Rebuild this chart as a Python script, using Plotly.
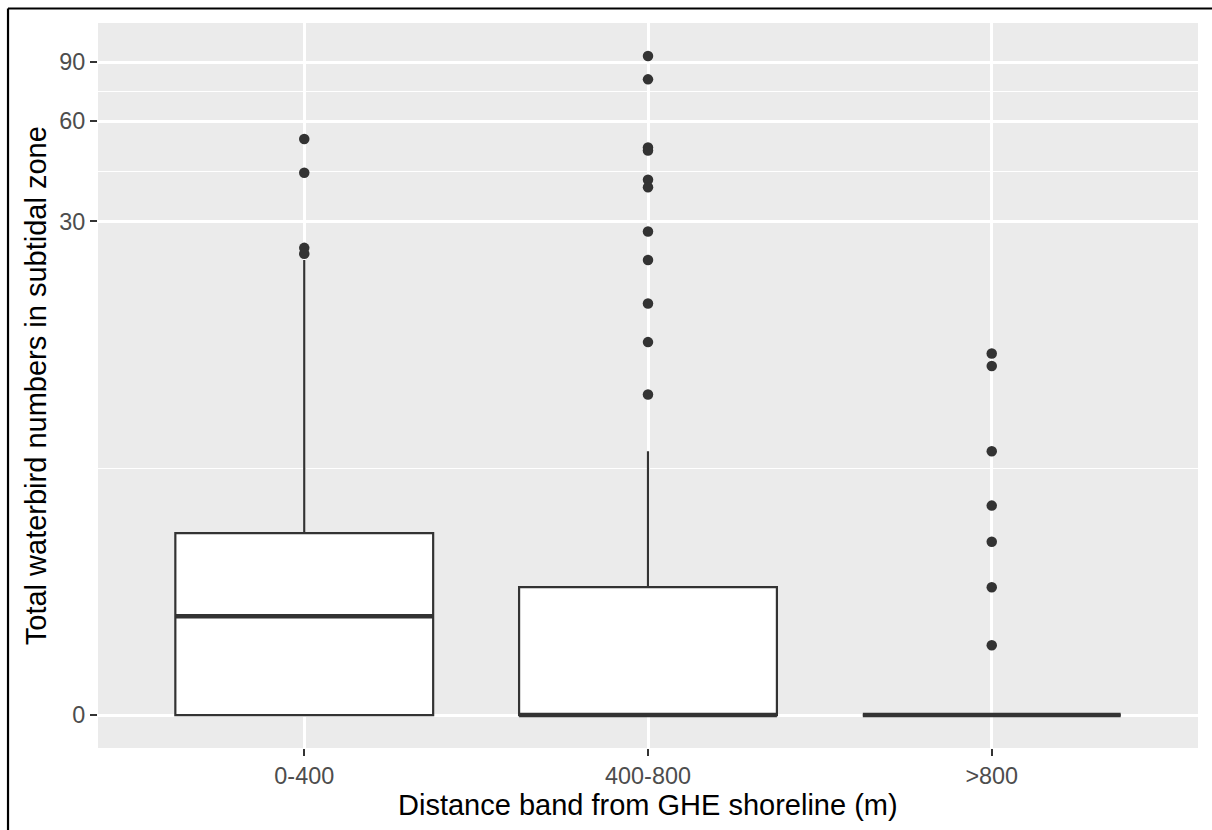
import numpy as np
import plotly.graph_objects as go

# Distance bands and box statistics (waterbird counts)
bands = ["0-400", "400-800", ">800"]
q1 = [0, 0, 0]
median = [1.47, 0, 0]
q3 = [3.22, 2, 0]
lower_whisker = [0, 0, 0]
upper_whisker = [23, 6, 0]

# Outlying counts per band
outliers_0_400 = [53, 42, 25, 24]
outliers_400_800 = [94, 80, 50, 49, 40, 38, 28, 23, 17, 13, 9]
outliers_800 = [12, 11, 6, 4, 3, 2, 1]
outliers = [outliers_0_400, outliers_400_800, outliers_800]

# Axis breaks
y_breaks = [0, 30, 60, 90]


def pseudo_log(v):
    """Pseudo-log transform (sigma = 1): asinh(x / 2)."""
    return np.arcsinh(np.asarray(v, dtype=float) / 2.0)


BOX_W = 0.75
LINE_C = "#333333"
GRID_BG = "#EBEBEB"
FONT = "Liberation Sans, Arial, sans-serif"
TICK_SIZE = 23.4
TITLE_SIZE = 29.0

fig = go.Figure()

for i, band in enumerate(bands):
    fig.add_trace(go.Box(
        x=[i],
        q1=[pseudo_log(q1[i])],
        median=[pseudo_log(median[i])],
        q3=[pseudo_log(q3[i])],
        lowerfence=[pseudo_log(lower_whisker[i])],
        upperfence=[pseudo_log(upper_whisker[i])],
        width=BOX_W,
        whiskerwidth=0,
        boxpoints=False,
        fillcolor="white",
        line=dict(color=LINE_C, width=2.2),
        showlegend=False,
        hoverinfo="skip",
    ))
    # heavier median bar
    m = float(pseudo_log(median[i]))
    fig.add_trace(go.Scatter(
        x=[i - BOX_W / 2, i + BOX_W / 2],
        y=[m, m],
        mode="lines",
        line=dict(color=LINE_C, width=4.6),
        showlegend=False,
        hoverinfo="skip",
    ))
    fig.add_trace(go.Scatter(
        x=[i] * len(outliers[i]),
        y=pseudo_log(outliers[i]),
        mode="markers",
        marker=dict(color=LINE_C, size=10.5, line=dict(width=0)),
        showlegend=False,
        hoverinfo="skip",
    ))

# y range with 5% expansion of the transformed data span
all_vals = np.concatenate([np.asarray(o, dtype=float) for o in outliers] + [np.asarray(q1, float)])
t_min = float(pseudo_log(all_vals.min()))
t_max = float(pseudo_log(all_vals.max()))
pad = 0.05 * (t_max - t_min)
y_range = [t_min - pad, t_max + pad]

major_t = list(pseudo_log(y_breaks))
step = major_t[1] - major_t[0]
ext = [major_t[0] - step] + major_t + [major_t[-1] + step]
minor_t = [(a + b) / 2 for a, b in zip(ext[:-1], ext[1:])]
minor_t = [m for m in minor_t if y_range[0] < m < y_range[1]]

fig.update_layout(
    width=1212,
    height=830,
    autosize=False,
    margin=dict(l=98, r=14, t=23, b=82),
    paper_bgcolor="white",
    plot_bgcolor=GRID_BG,
    font=dict(family=FONT, color="#4D4D4D", size=TICK_SIZE),
    xaxis=dict(
        range=[-0.6, len(bands) - 0.4],
        tickmode="array",
        tickvals=list(range(len(bands))),
        ticktext=bands,
        showgrid=True,
        gridcolor="white",
        gridwidth=2.5,
        zeroline=False,
        showline=False,
        ticks="outside",
        ticklen=7,
        tickwidth=2.4,
        tickcolor=LINE_C,
        tickfont=dict(family=FONT, size=TICK_SIZE, color="#4D4D4D"),
        fixedrange=True,
    ),
    yaxis=dict(
        range=y_range,
        tickmode="array",
        tickvals=major_t,
        ticktext=[str(b) for b in y_breaks],
        showgrid=True,
        gridcolor="white",
        gridwidth=2.5,
        zeroline=False,
        showline=False,
        ticks="outside",
        ticklen=7,
        tickwidth=2.4,
        tickcolor=LINE_C,
        tickfont=dict(family=FONT, size=TICK_SIZE, color="#4D4D4D"),
        minor=dict(
            tickmode="array",
            tickvals=minor_t,
            showgrid=True,
            gridcolor="white",
            gridwidth=1.2,
            ticks="",
        ),
        fixedrange=True,
    ),
    annotations=[
        dict(
            text="Distance band from GHE shoreline (m)",
            xref="paper", yref="paper",
            x=0.5, y=-0.0785,
            xanchor="center", yanchor="middle",
            showarrow=False,
            font=dict(family=FONT, size=TITLE_SIZE, color="black"),
        ),
        dict(
            text="Total waterbird numbers in subtidal zone",
            xref="paper", yref="paper",
            x=-0.0566, y=0.5,
            xanchor="center", yanchor="middle",
            textangle=-90,
            showarrow=False,
            font=dict(family=FONT, size=TITLE_SIZE, color="black"),
        ),
    ],
    shapes=[
        # frame edges along the top and left of the figure
        dict(type="line", xref="paper", yref="paper",
             x0=-0.0818, x1=1.02, y0=1.02, y1=1.02,
             line=dict(color="black", width=2.2)),
        dict(type="line", xref="paper", yref="paper",
             x0=-0.0818, x1=-0.0818, y0=1.02, y1=-0.13,
             line=dict(color="black", width=2.2)),
    ],
)

fig.write_html("out.html")
